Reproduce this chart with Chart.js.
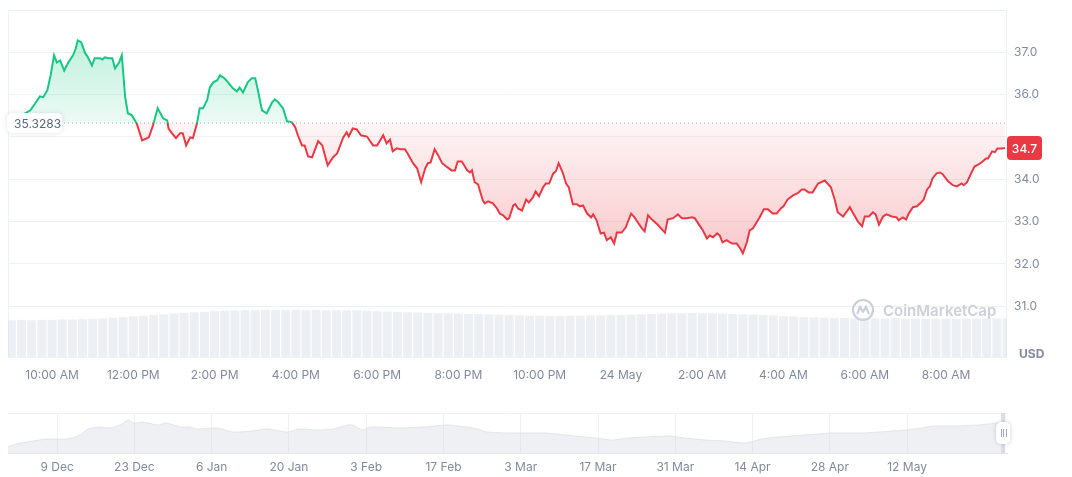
<!DOCTYPE html>
<html>
<head>
<meta charset="utf-8">
<script src="https://cdn.jsdelivr.net/npm/chart.js@4.4.1/dist/chart.umd.min.js"></script>
<style>
  body { margin: 0; background: #fff; font-family: Inter, sans-serif; }
  #wrap { position: relative; width: 1072px; height: 477px; overflow: hidden; }
  #main { position: absolute; left: 0; top: 0; width: 1072px; height: 395px; }
  #nav { position: absolute; left: 0; top: 395px; width: 1072px; height: 82px; }
  #wm { position: absolute; left: 851px; top: 298px; display: flex; align-items: center; gap: 8px;
        color: #cbd1d9; font: 600 15px Inter, sans-serif; pointer-events: none; }
</style>
</head>
<body>
<div id="wrap">
  <div id="main"><canvas id="priceChart"></canvas></div>
  <div id="nav"><canvas id="navChart"></canvas></div>
  <div id="wm">
    <svg width="24" height="24" viewBox="0 0 24 24">
      <circle cx="12" cy="12" r="10" fill="none" stroke="#cbd1d9" stroke-width="2.2"/>
      <path d="M6.5 15.5 L9 8.5 L12 14 L15 8.5 L17.5 15.5" fill="none" stroke="#cbd1d9" stroke-width="2.2" stroke-linejoin="round" stroke-linecap="round"/>
    </svg>CoinMarketCap
  </div>
</div>
<script>
const GREEN = "#16c784";
const RED = "#ea3943";
const GRID = "#eff2f5";
const TEXT = "#808a9d";

// 24h price, minutes after 9:00 AM (23 May)
const openPrice = 35.3283;
const priceMinutes = [
  -5,7,17,28,35,42,47,53,58,63,67,72,78,84,91,95,98,103,109,112,
  119,123,131,134,138,143,149,153,159,163,168,172,178,185,193,200,203,209,216,224,
  230,232,237,243,249,253,258,264,268,274,278,283,289,293,298,304,308,314,320,327,
  333,337,342,349,355,360,364,370,377,385,389,394,401,407,414,419,423,429,433,438,
  444,453,459,467,475,481,490,495,498,504,510,516,525,534,540,549,554,559,563,569,
  574,581,585,593,599,605,611,615,619,625,630,636,644,650,655,659,665,673,677,680,
  684,689,696,699,704,711,717,721,726,732,735,741,744,748,754,760,764,770,774,779,
  785,789,794,800,804,808,814,819,823,829,835,839,844,850,856,859,864,870,875,879,
  885,890,894,901,907,915,920,925,931,935,940,947,954,965,969,977,984,990,997,1005,
  1009,1016,1021,1027,1031,1036,1042,1046,1050,1056,1064,1071,1076,1080,1086,1090,1095,1104,1111,1117,
  1124,1130,1136,1140,1146,1154,1161,1167,1171,1177,1183,1191,1201,1210,1216,1220,1228,1238,1242,1250,
  1256,1260,1266,1272,1276,1281,1287,1292,1300,1307,1310,1316,1321,1325,1331,1337,1343,1347,1352,1356,
  1360,1366,1371,1375,1383,1390,1396,1403,1406,1411,1417,1422,1428,1434,1439,1442,1448,1452,1456,1462,
  1467
];
const prices = [
  35.33,35.44,35.53,35.63,35.79,35.96,35.94,36.10,36.46,36.93,36.76,36.81,36.57,36.76,36.93,37.09,37.28,37.24,36.98,36.91,
  36.69,36.86,36.86,36.83,36.88,36.86,36.86,36.62,36.76,36.93,35.94,35.56,35.51,35.32,34.92,34.97,34.99,35.27,35.68,35.44,
  35.39,35.20,35.09,34.97,35.09,35.09,34.80,34.99,34.97,35.32,35.68,35.68,35.87,36.17,36.29,36.34,36.46,36.39,36.29,36.15,
  36.08,36.17,36.05,36.29,36.39,36.39,36.10,35.63,35.56,35.82,35.89,35.82,35.68,35.37,35.35,35.23,35.04,34.80,34.80,34.54,
  34.52,34.90,34.80,34.33,34.52,34.61,34.99,35.11,35.01,35.20,35.18,35.04,35.01,34.80,34.80,35.04,34.85,34.94,34.66,34.73,
  34.71,34.71,34.61,34.38,34.26,33.93,34.26,34.38,34.40,34.71,34.57,34.38,34.28,34.21,34.21,34.42,34.42,34.21,34.16,34.21,
  33.93,33.88,33.50,33.43,33.48,33.43,33.31,33.19,33.15,33.05,33.08,33.38,33.41,33.31,33.26,33.52,33.45,33.57,33.71,33.60,
  33.81,33.90,33.90,34.14,34.19,34.38,34.16,33.90,33.81,33.41,33.41,33.36,33.38,33.19,33.10,33.17,33.03,32.72,32.74,32.56,
  32.63,32.48,32.74,32.74,32.86,33.19,33.10,32.98,32.84,32.77,33.15,33.03,32.93,32.74,33.05,33.08,33.17,33.08,33.08,33.10,
  33.08,32.91,32.79,32.60,32.67,32.63,32.72,32.67,32.51,32.56,32.48,32.48,32.37,32.25,32.51,32.79,32.84,33.08,33.29,33.29,
  33.19,33.19,33.31,33.36,33.52,33.62,33.67,33.76,33.76,33.69,33.69,33.90,33.97,33.81,33.50,33.22,33.12,33.34,33.22,33.00,
  32.89,33.12,33.12,33.22,33.17,32.93,33.12,33.17,33.12,33.10,33.03,33.10,33.05,33.19,33.34,33.36,33.45,33.52,33.76,33.83,
  34.02,34.14,34.16,34.12,33.95,33.86,33.83,33.90,33.86,33.93,34.14,34.30,34.35,34.42,34.49,34.49,34.66,34.64,34.73,34.73,
  34.74
];

// volume, one bar every 15 minutes from 9:00 AM (relative units)
const volumeStep = 15;
const volumes = [
  10.6,10.7,10.6,10.7,10.7,10.8,10.8,10.9,11.0,11.1,
  11.3,11.5,11.7,11.9,12.1,12.3,12.5,12.7,12.9,13.0,
  13.2,13.3,13.4,13.5,13.5,13.6,13.5,13.6,13.6,13.5,
  13.6,13.5,13.5,13.4,13.5,13.3,13.2,13.1,13.0,12.9,
  12.8,12.7,12.6,12.6,12.5,12.4,12.4,12.3,12.2,12.1,
  12.0,11.9,11.9,11.8,11.8,11.9,11.9,12.0,12.0,12.1,
  12.1,12.2,12.3,12.4,12.5,12.6,12.6,12.7,12.6,12.6,
  12.5,12.4,12.3,12.2,12.1,12.0,11.8,11.7,11.5,11.4,
  11.3,11.2,11.2,11.1,11.2,11.1,11.1,11.2,11.1,11.1,
  11.0,11.1,11.1,11.0,11.1,11.1,11.0,11.1,11.1
];

const xTickMinutes = [60,180,300,420,540,660,780,900,1020,1140,1260,1380];
const xTickLabels = ["10:00 AM","12:00 PM","2:00 PM","4:00 PM","6:00 PM","8:00 PM","10:00 PM","24 May","2:00 AM","4:00 AM","6:00 AM","8:00 AM"];
const yTicks = [31,32,33,34,35,36,37,38];

// navigator: days after 9 Dec, price
const navDays = [-8.9,-6.7,-4.4,-1.8,1.8,4.2,5.6,7.8,9.6,11.4,12.9,13.8,15.6,18.1,19.9,22.3,24.1,25.4,29.0,31.9,
  35.5,38.1,41.7,44.0,47.1,50.0,52.6,53.5,55.4,56.7,62.2,66.3,70.7,75.4,77.9,82.6,88.4,92.1,97.5,100.6,
  103.5,106.5,110.7,113.8,117.4,121.0,124.7,127.7,130.6,135.5,140.4,145.9,148.8,153.7,156.7,158.5,162.7,166.9,170.5,171.4];
const navValues = [23.2,25.0,26.0,27.0,27.0,29.0,32.0,33.0,32.5,34.0,36.5,35.0,35.5,34.0,35.0,33.0,33.0,32.0,32.5,30.5,
  31.0,32.0,30.5,32.0,31.5,32.0,34.0,34.0,31.5,33.0,32.5,33.0,34.0,32.5,30.5,30.0,30.0,29.0,27.5,26.5,
  27.5,28.0,28.5,27.5,26.5,26.0,25.0,27.0,28.0,29.0,30.0,30.0,30.5,31.5,32.5,33.5,33.5,34.0,35.0,35.0];
const navTickDays = [0,14,28,42,56,70,84,98,112,126,140,154];
const navTickLabels = ["9 Dec","23 Dec","6 Jan","20 Jan","3 Feb","17 Feb","3 Mar","17 Mar","31 Mar","14 Apr","28 Apr","12 May"];

Chart.defaults.font.family = "Inter, sans-serif";
Chart.defaults.font.size = 12;
Chart.defaults.color = TEXT;

function rrect(ctx, x, y, w, h, r) {
  ctx.beginPath();
  ctx.moveTo(x + r, y);
  ctx.arcTo(x + w, y, x + w, y + h, r);
  ctx.arcTo(x + w, y + h, x, y + h, r);
  ctx.arcTo(x, y + h, x, y, r);
  ctx.arcTo(x, y, x + w, y, r);
  ctx.closePath();
}

const lastPrice = prices[prices.length - 1];

const priceDecor = {
  id: "priceDecor",
  beforeDatasetsDraw(chart) {
    const { ctx, chartArea: a } = chart;
    ctx.save();
    ctx.strokeStyle = GRID;
    ctx.lineWidth = 1;
    ctx.strokeRect(a.left + 0.5, a.top + 0.5, a.right - a.left - 1, a.bottom - a.top);
    ctx.restore();
  },
  afterDatasetsDraw(chart) {
    const { ctx, chartArea: a } = chart;
    const y = chart.scales.y;
    const yb = y.getPixelForValue(openPrice);
    ctx.save();
    // open price label
    ctx.shadowColor = "rgba(88,102,126,0.18)";
    ctx.shadowBlur = 5;
    ctx.fillStyle = "#fff";
    rrect(ctx, a.left - 1, yb - 10, 55, 20, 5);
    ctx.fill();
    ctx.shadowBlur = 0;
    ctx.shadowColor = "transparent";
    ctx.fillStyle = "#58667e";
    ctx.font = "12px Inter, sans-serif";
    ctx.textBaseline = "middle";
    ctx.textAlign = "left";
    ctx.fillText(String(openPrice), a.left + 6, yb + 1);
    // last price badge
    const yl = y.getPixelForValue(lastPrice);
    ctx.fillStyle = RED;
    rrect(ctx, a.right, yl - 12, 35, 24, 4);
    ctx.fill();
    ctx.fillStyle = "#fff";
    ctx.textAlign = "center";
    ctx.font = "500 12px Inter, sans-serif";
    ctx.fillText(lastPrice.toFixed(1), a.right + 17.5, yl + 1);
    // currency
    ctx.fillStyle = TEXT;
    ctx.textAlign = "left";
    ctx.font = "bold 12px Inter, sans-serif";
    ctx.fillText("USD", a.right + 12, a.bottom - 3);
    ctx.restore();
  }
};

const priceChart = new Chart(document.getElementById("priceChart"), {
  type: "line",
  data: {
    datasets: [
      {
        label: "Price",
        data: priceMinutes.map((m, i) => ({ x: m, y: prices[i] })),
        borderColor: GREEN,
        borderWidth: 2,
        pointRadius: 0,
        tension: 0,
        fill: { target: { value: openPrice } },
        order: 0
      },
      {
        label: "Open",
        data: [{ x: -5, y: openPrice }, { x: 1470, y: openPrice }],
        borderColor: "#a1a7bb",
        borderWidth: 1,
        borderDash: [1, 3],
        pointRadius: 0,
        fill: false,
        order: 1
      },
      {
        type: "bar",
        label: "Volume",
        data: volumes.map((v, i) => ({ x: i * volumeStep, y: v })),
        yAxisID: "yv",
        backgroundColor: "rgba(207,214,228,0.4)",
        barPercentage: 0.88,
        categoryPercentage: 1,
        order: 2
      }
    ]
  },
  options: {
    responsive: true,
    maintainAspectRatio: false,
    animation: false,
    layout: { padding: { left: 8, top: 10, right: 0, bottom: 0 } },
    plugins: { legend: { display: false }, tooltip: { enabled: false } },
    scales: {
      x: {
        type: "linear",
        min: -5,
        max: 1470,
        offset: false,
        grid: { display: false, drawTicks: false },
        border: { display: false },
        afterBuildTicks: s => { s.ticks = xTickMinutes.map(v => ({ value: v })); },
        afterFit: s => { s.height = 38; s.paddingLeft = 0; s.paddingRight = 0; },
        ticks: {
          padding: 11,
          maxRotation: 0,
          autoSkip: false,
          callback: v => xTickLabels[xTickMinutes.indexOf(v)] || ""
        }
      },
      y: {
        position: "right",
        min: 29.8,
        max: 38,
        grid: { color: GRID, drawTicks: false },
        border: { display: false },
        afterBuildTicks: s => { s.ticks = yTicks.map(v => ({ value: v })); },
        afterFit: s => { s.width = 65; s.paddingTop = 0; s.paddingBottom = 0; },
        ticks: {
          padding: 7,
          callback: v => (v >= 38 || Math.abs(v - lastPrice) < 0.45) ? "" : v.toFixed(1)
        }
      },
      yv: {
        display: false,
        min: 0,
        max: 100
      }
    }
  },
  plugins: [priceDecor]
});

(function paint(chart) {
  const a = chart.chartArea, y = chart.scales.y, ctx = chart.ctx;
  const yb = y.getPixelForValue(openPrice);
  const f = (yb - a.top) / (a.bottom - a.top);
  const stroke = ctx.createLinearGradient(0, a.top, 0, a.bottom);
  stroke.addColorStop(0, GREEN);
  stroke.addColorStop(f, GREEN);
  stroke.addColorStop(f, RED);
  stroke.addColorStop(1, RED);
  const up = ctx.createLinearGradient(0, y.getPixelForValue(37.3), 0, yb);
  up.addColorStop(0, "rgba(22,199,132,0.27)");
  up.addColorStop(1, "rgba(22,199,132,0.08)");
  const down = ctx.createLinearGradient(0, yb, 0, y.getPixelForValue(32.2));
  down.addColorStop(0, "rgba(234,57,67,0.05)");
  down.addColorStop(1, "rgba(234,57,67,0.28)");
  const ds = chart.data.datasets[0];
  ds.borderColor = stroke;
  ds.fill = { target: { value: openPrice }, above: up, below: down };
  chart.update("none");
})(priceChart);

const navDecor = {
  id: "navDecor",
  beforeDatasetsDraw(chart) {
    const { ctx, chartArea: a } = chart;
    ctx.save();
    ctx.strokeStyle = GRID;
    ctx.beginPath();
    ctx.moveTo(a.left, a.top + 0.5);
    ctx.lineTo(a.right, a.top + 0.5);
    ctx.stroke();
    ctx.restore();
  },
  afterDatasetsDraw(chart) {
    const { ctx, chartArea: a } = chart;
    const x = chart.scales.x.getPixelForValue(navDays[navDays.length - 1]);
    const yc = (a.top + a.bottom) / 2;
    ctx.save();
    ctx.fillStyle = "#d9dee6";
    ctx.fillRect(x - 2, a.top, 4, a.bottom - a.top);
    ctx.shadowColor = "rgba(88,102,126,0.3)";
    ctx.shadowBlur = 4;
    ctx.fillStyle = "#fff";
    rrect(ctx, x - 7, yc - 11, 14, 22, 5);
    ctx.fill();
    ctx.shadowBlur = 0;
    ctx.shadowColor = "transparent";
    ctx.strokeStyle = "#a1a7bb";
    ctx.lineWidth = 1;
    [-2.5, 0, 2.5].forEach(d => {
      ctx.beginPath();
      ctx.moveTo(Math.round(x + d) + 0.5, yc - 4);
      ctx.lineTo(Math.round(x + d) + 0.5, yc + 4);
      ctx.stroke();
    });
    ctx.restore();
  }
};

new Chart(document.getElementById("navChart"), {
  type: "line",
  data: {
    datasets: [{
      label: "History",
      data: navDays.map((d, i) => ({ x: d, y: navValues[i] })),
      borderColor: "rgba(205,211,222,0.5)",
      borderWidth: 1,
      backgroundColor: "rgba(212,218,228,0.4)",
      fill: "start",
      pointRadius: 0,
      tension: 0.2
    }]
  },
  options: {
    responsive: true,
    maintainAspectRatio: false,
    animation: false,
    layout: { padding: { left: 8, top: 18, right: 65, bottom: 0 } },
    plugins: { legend: { display: false }, tooltip: { enabled: false } },
    scales: {
      x: {
        type: "linear",
        min: -8.9,
        max: 172.1,
        grid: { color: GRID, drawTicks: false },
        border: { display: true, color: "#e3e7ec" },
        afterBuildTicks: s => { s.ticks = navTickDays.map(v => ({ value: v })); },
        afterFit: s => { s.height = 24; s.paddingLeft = 0; s.paddingRight = 0; },
        ticks: {
          padding: 7,
          maxRotation: 0,
          autoSkip: false,
          callback: v => navTickLabels[navTickDays.indexOf(v)] || ""
        }
      },
      y: { display: false, min: 20, max: 40 }
    }
  },
  plugins: [navDecor]
});
</script>
</body>
</html>
